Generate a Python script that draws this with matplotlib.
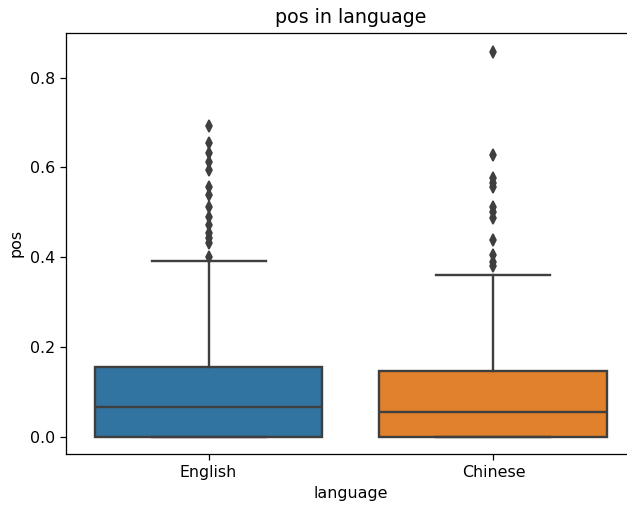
import matplotlib
matplotlib.use("Agg")
import matplotlib.pyplot as plt

languages = ["English", "Chinese"]
colors = ["#3274a1", "#e1812c"]

# box statistics of pos per language
q1 = [0.0, 0.0]
medians = [0.066, 0.055]
q3 = [0.155, 0.146]
whisker_low = [0.0, 0.0]
whisker_high = [0.391, 0.360]

fliers_english = [0.693, 0.654, 0.631, 0.613, 0.594, 0.557, 0.538, 0.512,
                  0.490, 0.472, 0.454, 0.442, 0.431, 0.401]
fliers_chinese = [0.858, 0.628, 0.576, 0.566, 0.557, 0.512, 0.501, 0.487,
                  0.438, 0.405, 0.390, 0.380]
fliers = [fliers_english, fliers_chinese]

stats = []
for i, lang in enumerate(languages):
    stats.append({
        "label": lang,
        "q1": q1[i], "med": medians[i], "q3": q3[i],
        "whislo": whisker_low[i], "whishi": whisker_high[i],
        "fliers": fliers[i],
    })

dpi = 114
fig = plt.figure(figsize=(627 / dpi, 507 / dpi), dpi=dpi)
# the axes runs a little past the right edge of the figure
ax = fig.add_axes([0.1053, 0.1045, 0.909, 0.831])

gray = "#3f3f3f"
bp = ax.bxp(stats, positions=[0, 1], widths=0.8, patch_artist=True,
            showcaps=True,
            boxprops=dict(edgecolor=gray, linewidth=1.5),
            medianprops=dict(color=gray, linewidth=1.5),
            whiskerprops=dict(color=gray, linewidth=1.5),
            capprops=dict(color=gray, linewidth=1.5),
            flierprops=dict(marker="d", markerfacecolor=gray, markeredgecolor=gray,
                            markersize=5, linestyle="none"))
for patch, c in zip(bp["boxes"], colors):
    patch.set_facecolor(c)
for cap in bp["caps"]:
    x = cap.get_xdata()
    mid = (x[0] + x[1]) / 2
    cap.set_xdata([mid - 0.2, mid + 0.2])

ax.set_xlim(-0.5, 1.5)
ax.set_ylim(-0.0386, 0.900)
ax.set_xticks([0, 1])
ax.set_xticklabels(languages)
ax.set_yticks([0.0, 0.2, 0.4, 0.6, 0.8])
ax.set_xlabel("language")
ax.set_ylabel("pos")
ax.set_title("pos in language")

fig.savefig("out.png", dpi=dpi)
